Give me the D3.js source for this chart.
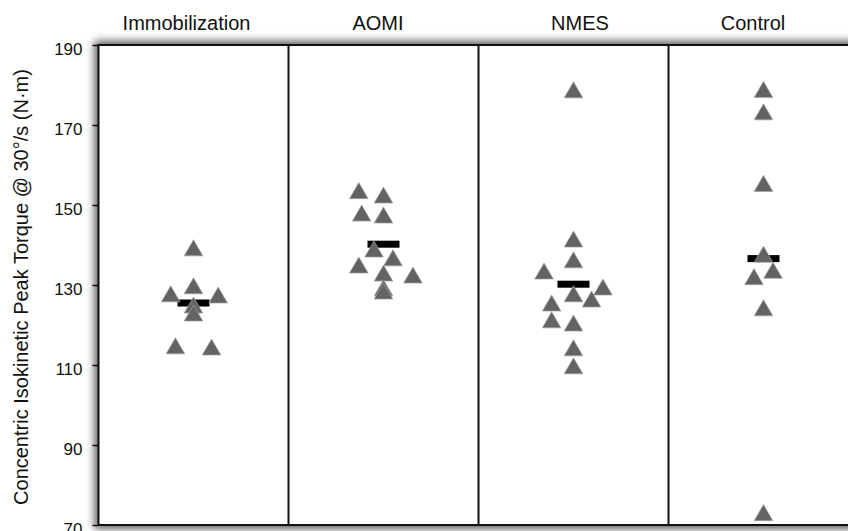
<!DOCTYPE html>
<html>
<head>
  <style>
    body { margin: 0; background: #fff; font-family: Arial, "Liberation Sans", sans-serif; }
    svg { display: block; }
  </style>
  <script src="https://d3js.org/d3.v7.min.js"></script>
</head>
<body>
  <div id="graph"></div>
  <script>
    // groups shown as column headers
    const groups = ["Immobilization", "AOMI", "NMES", "Control"];

    // individual peak torque values (N·m) per group
    const immobilizationValues = [139, 129.5, 127.5, 127.2, 124.7, 122.7, 114.5, 114.2];
    const aomiValues = [153.3, 152.2, 147.7, 147.2, 138.7, 136.5, 134.7, 132.7, 132.2, 129, 128.2];
    const nmesValues = [178.5, 141.2, 136, 133.2, 129.2, 127.5, 126.2, 125.2, 121, 120.2, 114, 109.5];
    const controlValues = [178.6, 173, 155.1, 137.4, 133.4, 131.8, 124, 72.8];

    // horizontal jitter of each point, as a fraction of the column width
    const immobilizationJitter = [0, 0, -0.12, 0.13, 0, 0, -0.095, 0.095];
    const aomiJitter = [-0.13, 0, -0.115, 0, -0.05, 0.05, -0.13, 0, 0.155, 0, 0];
    const nmesJitter = [0, 0, 0, -0.155, 0.155, 0, 0.095, -0.115, -0.115, 0, 0, 0];
    const controlJitter = [0, 0, 0, 0, 0.05, -0.05, 0, 0];

    // group means (black bars)
    const means = [125.5, 140.2, 130.2, 136.6];

    const yTicks = [70, 90, 110, 130, 150, 170, 190];

    const allValues = [immobilizationValues, aomiValues, nmesValues, controlValues];
    const allJitter = [immobilizationJitter, aomiJitter, nmesJitter, controlJitter];

    const points = [];
    groups.forEach((g, i) => {
      allValues[i].forEach((v, j) => points.push({ group: g, value: v, jitter: allJitter[i][j] }));
    });

    const W = 848, H = 531;
    const plot = { left: 98.5, right: 858.5, top: 45, bottom: 525 };

    const svg = d3.select("#graph").append("svg").attr("width", W).attr("height", H);

    const x = d3.scaleBand().domain(groups).range([plot.left, plot.right]).padding(0);
    const y = d3.scaleLinear().domain([70, 190]).range([plot.bottom, plot.top]);
    const jx = d3.scaleLinear().domain([-1, 1]).range([-x.bandwidth(), x.bandwidth()]);

    // soft gray shadow around the frame
    const defs = svg.append("defs");
    const f = defs.append("filter").attr("id", "glow")
      .attr("x", "-10%").attr("y", "-10%").attr("width", "120%").attr("height", "120%");
    f.append("feGaussianBlur").attr("stdDeviation", 4);

    svg.append("rect")
      .attr("x", plot.left - 4).attr("y", plot.top - 4)
      .attr("width", plot.right - plot.left + 8).attr("height", plot.bottom - plot.top + 8)
      .attr("fill", "#5a5a5a")
      .attr("filter", "url(#glow)");

    svg.append("rect")
      .attr("x", plot.left).attr("y", plot.top)
      .attr("width", plot.right - plot.left).attr("height", plot.bottom - plot.top)
      .attr("fill", "#fff");

    // column dividers
    svg.append("g").selectAll("line")
      .data(groups.slice(1))
      .join("line")
      .attr("x1", d => x(d)).attr("x2", d => x(d))
      .attr("y1", plot.top).attr("y2", plot.bottom)
      .attr("stroke", "#111").attr("stroke-width", 2);

    // frame
    svg.append("rect")
      .attr("x", plot.left).attr("y", plot.top)
      .attr("width", plot.right - plot.left).attr("height", plot.bottom - plot.top)
      .attr("fill", "none").attr("stroke", "#111").attr("stroke-width", 2);

    // y axis
    const yAxis = d3.axisLeft(y).tickValues(yTicks).tickSize(6).tickPadding(10);
    const ya = svg.append("g")
      .attr("transform", `translate(${plot.left},0)`)
      .call(yAxis);
    ya.attr("font-size", null).attr("font-family", null);
    ya.select(".domain").remove();
    ya.selectAll(".tick line").attr("stroke", "#111").attr("stroke-width", 1.5);
    ya.selectAll(".tick text")
      .style("font-family", "Arial, 'Liberation Sans', sans-serif")
      .style("font-size", "17px")
      .attr("fill", "#111")
      .attr("dy", "0.55em");

    svg.append("text")
      .attr("transform", `translate(28,287) rotate(-90)`)
      .attr("text-anchor", "middle")
      .style("font-size", "20px")
      .attr("fill", "#111")
      .text("Concentric Isokinetic Peak Torque @ 30°/s (N·m)");

    // column headers
    const headerNudge = [-7, -5.5, 6.5, -10.5];
    svg.append("g").selectAll("text")
      .data(groups)
      .join("text")
      .attr("x", (d, i) => x(d) + x.bandwidth() / 2 + headerNudge[i])
      .attr("y", 30)
      .attr("text-anchor", "middle")
      .style("font-size", "20px")
      .attr("fill", "#111")
      .text(d => d);

    // mean bars
    svg.append("g").selectAll("rect")
      .data(groups)
      .join("rect")
      .attr("x", d => x(d) + x.bandwidth() / 2 - 16)
      .attr("y", (d, i) => y(means[i]) - 3.5)
      .attr("width", 32)
      .attr("height", 7)
      .attr("fill", "#000");

    // triangles
    const tri = d3.symbol().type(d3.symbolTriangle).size(150);
    svg.append("g").selectAll("path")
      .data(points)
      .join("path")
      .attr("d", tri)
      .attr("transform", d => `translate(${x(d.group) + x.bandwidth() / 2 + jx(d.jitter)},${y(d.value) + 1.5})`)
      .attr("fill", "#636363")
      .attr("stroke", "#a5a5a5")
      .attr("stroke-width", 0.7);
  </script>
</body>
</html>
